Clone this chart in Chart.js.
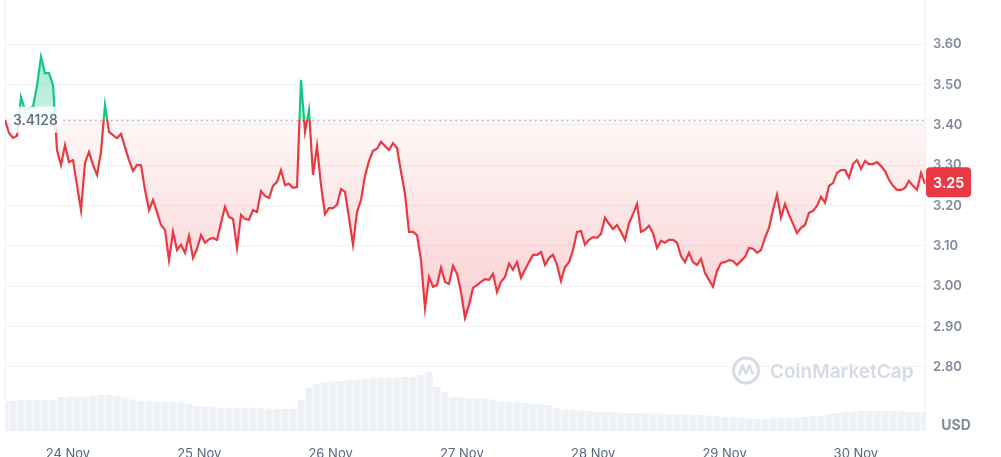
<!DOCTYPE html>
<html>
<head>
<meta charset="utf-8">
<script src="https://cdn.jsdelivr.net/npm/chart.js@4.4.1/dist/chart.umd.min.js"></script>
<style>
  html, body { margin: 0; padding: 0; background: #fff; }
  #wrap { width: 1001px; height: 457px; position: relative; }
</style>
</head>
<body>
<div id="wrap"><canvas id="priceChart"></canvas></div>
<script>
const dayLabels = ["24 Nov", "25 Nov", "26 Nov", "27 Nov", "28 Nov", "29 Nov", "30 Nov"];
const priceTicks = [2.8, 2.9, 3.0, 3.1, 3.2, 3.3, 3.4, 3.5, 3.6];
const openPrice = 3.4128;
// hours relative to 24 Nov 00:00
const startHour = -11.5;
const priceStep = 0.731;
const volumeStep = 1.462;

const prices = [
  3.412, 3.380, 3.368, 3.373, 3.469, 3.437, 3.442, 3.445, 3.497, 3.569,
  3.528, 3.529, 3.499, 3.338, 3.301, 3.350, 3.308, 3.313, 3.251, 3.189,
  3.306, 3.333, 3.301, 3.276, 3.333, 3.450, 3.383, 3.375, 3.367, 3.378,
  3.345, 3.313, 3.286, 3.301, 3.300, 3.239, 3.189, 3.214, 3.184, 3.152,
  3.140, 3.065, 3.135, 3.090, 3.103, 3.083, 3.125, 3.070, 3.093, 3.127,
  3.108, 3.117, 3.120, 3.115, 3.157, 3.197, 3.172, 3.167, 3.095, 3.177,
  3.167, 3.165, 3.189, 3.184, 3.236, 3.224, 3.219, 3.249, 3.259, 3.288,
  3.251, 3.254, 3.244, 3.246, 3.512, 3.383, 3.437, 3.276, 3.348, 3.251,
  3.179, 3.194, 3.194, 3.202, 3.241, 3.234, 3.170, 3.103, 3.184, 3.214,
  3.274, 3.311, 3.336, 3.341, 3.358, 3.348, 3.338, 3.355, 3.343, 3.284,
  3.229, 3.135, 3.135, 3.127, 3.065, 2.946, 3.023, 2.999, 3.003, 3.046,
  3.011, 3.006, 3.051, 3.031, 2.986, 2.922, 2.954, 2.996, 3.003, 3.011,
  3.018, 3.016, 3.031, 2.986, 3.011, 3.023, 3.056, 3.041, 3.060, 3.021,
  3.041, 3.060, 3.078, 3.078, 3.085, 3.053, 3.070, 3.078, 3.053, 3.013,
  3.048, 3.060, 3.090, 3.135, 3.137, 3.103, 3.115, 3.122, 3.120, 3.130,
  3.170, 3.155, 3.142, 3.152, 3.135, 3.115, 3.157, 3.179, 3.204, 3.135,
  3.140, 3.150, 3.132, 3.095, 3.113, 3.108, 3.115, 3.115, 3.108, 3.075,
  3.060, 3.083, 3.060, 3.053, 3.068, 3.033, 3.016, 2.999, 3.038, 3.058,
  3.060, 3.065, 3.063, 3.053, 3.063, 3.073, 3.095, 3.093, 3.083, 3.090,
  3.120, 3.145, 3.189, 3.227, 3.170, 3.204, 3.177, 3.155, 3.132, 3.145,
  3.152, 3.182, 3.187, 3.199, 3.222, 3.207, 3.249, 3.256, 3.281, 3.288,
  3.288, 3.269, 3.303, 3.313, 3.291, 3.311, 3.303, 3.303, 3.308, 3.298,
  3.286, 3.264, 3.249, 3.239, 3.239, 3.244, 3.261, 3.249, 3.239, 3.281,
  3.254
];

// 24h volume, millions USD
const volumes = [
  205, 210, 217, 217, 220, 220, 217, 238, 241, 241,
  241, 248, 252, 252, 248, 234, 220, 212, 208, 205,
  203, 203, 200, 189, 175, 171, 166, 164, 164, 163,
  161, 161, 159, 157, 156, 154, 154, 217, 304, 332,
  340, 345, 350, 357, 360, 365, 369, 371, 373, 376,
  378, 381, 392, 415, 308, 270, 240, 234, 229, 229,
  227, 220, 205, 203, 200, 196, 192, 189, 182, 161,
  150, 147, 142, 140, 136, 133, 131, 128, 126, 126,
  124, 122, 121, 119, 117, 115, 113, 112, 108, 105,
  99, 96, 91, 86, 84, 85, 89, 91, 92, 94,
  98, 103, 108, 119, 126, 133, 136, 140, 140, 140,
  140, 140, 138, 134, 131, 133
];

const green = "#16c784";
const red = "#ea3943";
const endHour = startHour + (prices.length - 1) * priceStep;

const priceData = prices.map((p, i) => ({ x: startHour + i * priceStep, y: p }));
const volumeData = volumes.map((v, i) => ({ x: startHour + i * volumeStep, y: v }));

function lineColor(ctx) {
  const chart = ctx.chart;
  const area = chart.chartArea;
  if (!area) return red;
  const y0 = chart.scales.y.getPixelForValue(openPrice);
  const t = Math.min(Math.max((y0 - area.top) / (area.bottom - area.top), 0), 1);
  const g = chart.ctx.createLinearGradient(0, area.top, 0, area.bottom);
  g.addColorStop(0, green);
  g.addColorStop(t, green);
  g.addColorStop(t, red);
  g.addColorStop(1, red);
  return g;
}

function fillColor(ctx) {
  const chart = ctx.chart;
  const area = chart.chartArea;
  if (!area) return "transparent";
  const y = chart.scales.y;
  const top = y.getPixelForValue(Math.max(...prices));
  const bottom = y.getPixelForValue(Math.min(...prices));
  const y0 = y.getPixelForValue(openPrice);
  const t = (y0 - top) / (bottom - top);
  const g = chart.ctx.createLinearGradient(0, top, 0, bottom);
  g.addColorStop(0, "rgba(22,199,132,0.38)");
  g.addColorStop(t, "rgba(22,199,132,0.22)");
  g.addColorStop(t, "rgba(234,57,67,0.04)");
  g.addColorStop(1, "rgba(234,57,67,0.24)");
  return g;
}

// frame lines, dotted open line, labels, watermark
const overlay = {
  id: "overlay",
  beforeDatasetsDraw(chart) {
    const { ctx, chartArea: a, scales } = chart;
    ctx.save();
    ctx.strokeStyle = "#eff2f5";
    ctx.lineWidth = 1;
    ctx.beginPath();
    ctx.moveTo(a.left + 0.5, a.top);
    ctx.lineTo(a.left + 0.5, a.bottom);
    ctx.moveTo(a.right + 0.5, a.top);
    ctx.lineTo(a.right + 0.5, a.bottom);
    ctx.stroke();

    // watermark
    const cx = a.right - 179, cy = a.bottom - 60.5;
    ctx.strokeStyle = "#d5dbe5";
    ctx.lineWidth = 3;
    ctx.beginPath();
    ctx.arc(cx, cy, 12.5, 0, Math.PI * 2);
    ctx.stroke();
    ctx.lineWidth = 2.5;
    ctx.lineJoin = "round";
    ctx.beginPath();
    ctx.moveTo(cx - 7, cy + 5);
    ctx.lineTo(cx - 3.5, cy - 5);
    ctx.lineTo(cx, cy + 3);
    ctx.lineTo(cx + 3.5, cy - 5);
    ctx.lineTo(cx + 7, cy + 4);
    ctx.stroke();
    ctx.fillStyle = "#d5dbe5";
    ctx.font = "600 19px Inter";
    ctx.textAlign = "left";
    ctx.textBaseline = "middle";
    ctx.fillText("CoinMarketCap", cx + 24, cy + 1.5);

    const y0 = Math.round(scales.y.getPixelForValue(openPrice)) + 0.5;
    ctx.strokeStyle = "#a6b0c3";
    ctx.lineWidth = 1.5;
    ctx.setLineDash([1.5, 3.8]);
    ctx.beginPath();
    ctx.moveTo(a.left, y0);
    ctx.lineTo(a.right, y0);
    ctx.stroke();
    ctx.restore();
  },
  afterDatasetsDraw(chart) {
    const { ctx, chartArea: a, scales } = chart;
    const y0 = scales.y.getPixelForValue(openPrice);
    ctx.save();
    ctx.fillStyle = "rgba(255,255,255,0.85)";
    ctx.beginPath();
    ctx.roundRect(a.left + 4, y0 - 13, 53, 26, 4);
    ctx.fill();
    ctx.fillStyle = "#58667e";
    ctx.font = "500 14px Inter";
    ctx.textAlign = "left";
    ctx.textBaseline = "middle";
    ctx.fillText(openPrice.toFixed(4), a.left + 8, y0 + 1);

    const last = prices[prices.length - 1];
    const yl = scales.y.getPixelForValue(last) - 1.5;
    ctx.fillStyle = red;
    ctx.beginPath();
    ctx.roundRect(a.right + 1, yl - 15, 45, 30, 4);
    ctx.fill();
    ctx.fillStyle = "#ffffff";
    ctx.font = "700 14px Inter";
    ctx.textAlign = "center";
    ctx.fillText(last.toFixed(2), a.right + 23.5, yl + 1);

    ctx.fillStyle = "#808a9d";
    ctx.font = "700 14px Inter";
    ctx.fillText("USD", a.right + 31, a.bottom - 5);
    ctx.restore();
  }
};

new Chart(document.getElementById("priceChart"), {
  type: "line",
  data: {
    datasets: [
      {
        label: "Price",
        data: priceData,
        borderColor: lineColor,
        backgroundColor: fillColor,
        borderWidth: 2.2,
        pointRadius: 0,
        tension: 0,
        fill: { value: openPrice },
        order: 1
      },
      {
        type: "bar",
        label: "Volume",
        data: volumeData,
        yAxisID: "y2",
        backgroundColor: "#eef1f6",
        barPercentage: 0.9,
        categoryPercentage: 1,
        order: 2
      }
    ]
  },
  plugins: [overlay],
  options: {
    responsive: true,
    maintainAspectRatio: false,
    animation: false,
    layout: { padding: { left: 5, top: 0, right: 0, bottom: 0 } },
    plugins: { legend: { display: false }, tooltip: { enabled: false } },
    scales: {
      x: {
        type: "linear",
        offset: false,
        min: startHour,
        max: endHour,
        grid: { display: false, offset: false },
        border: { display: false },
        afterBuildTicks: s => { s.ticks = dayLabels.map((_, k) => ({ value: k * 24 })); },
        ticks: {
          autoSkip: false,
          maxRotation: 0,
          padding: 7,
          color: "#58667e",
          font: { family: "Inter", size: 13 },
          callback: (v, i) => dayLabels[i]
        },
        afterFit: s => { s.height = 26; s.paddingLeft = 0; s.paddingRight = 0; }
      },
      y: {
        position: "right",
        min: 2.6413,
        max: 3.7098,
        grid: { color: "#eff2f5", drawTicks: false },
        border: { display: false },
        afterBuildTicks: s => { s.ticks = priceTicks.map(v => ({ value: v })); },
        ticks: {
          padding: 8,
          color: "#808a9d",
          font: { family: "Inter", size: 13, weight: "600" },
          callback: v => v.toFixed(2)
        },
        afterFit: s => { s.width = 76; s.paddingTop = 0; s.paddingBottom = 0; }
      },
      y2: { display: false, min: 0, max: 3017 }
    }
  }
});
</script>
</body>
</html>
